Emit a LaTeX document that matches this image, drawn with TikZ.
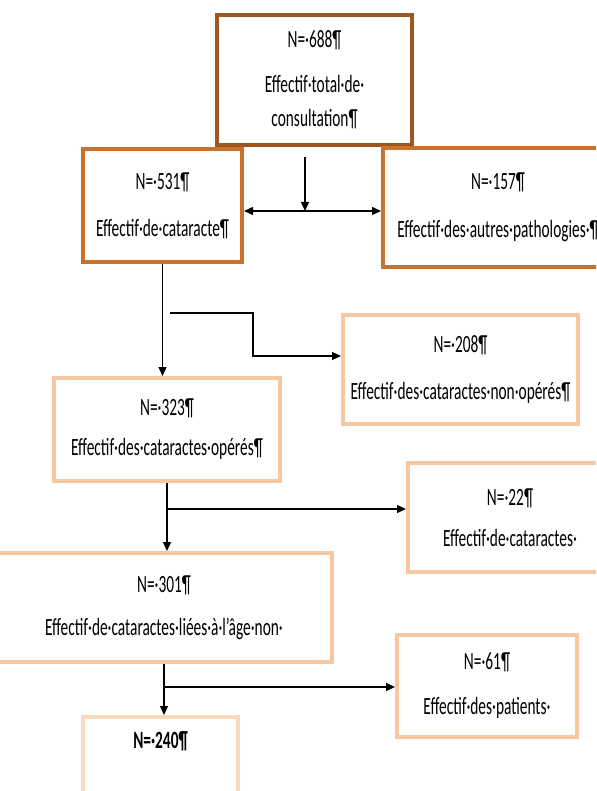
\documentclass[tikz,border=0pt]{standalone}
\usepackage{fontspec}
\setmainfont{Carlito}[FakeStretch=0.62]
\usetikzlibrary{arrows.meta}

\definecolor{brownline}{RGB}{158,86,30}
\definecolor{orangeline}{RGB}{200,114,46}
\definecolor{peachline}{RGB}{246,200,162}
\definecolor{paleline}{RGB}{250,216,188}

\begin{document}
\begin{tikzpicture}[x=1pt,y=-1pt,
  every node/.style={font=\fontsize{24.8}{34}\selectfont, align=center, inner sep=0pt},
  box/.style={draw=#1, line width=4pt},
  link/.style={line width=1.3pt},
  >={Triangle[length=9pt,width=8pt]}]
  \useasboundingbox (0,0) rectangle (596,791);
  \clip (0,0) rectangle (596,791);
  % boxes
  \node[box=brownline, minimum width=195pt, minimum height=130pt] (total) at (314.5,80)
    {N=·688¶\\[11pt]Effectif·total·de·\\consultation¶};
  \node[box=orangeline, minimum width=159pt, minimum height=113pt] (cataracte) at (162.5,205.5)
    {N=·531¶\\[13pt]Effectif·de·cataracte¶};
  \node[box=orangeline, minimum width=230pt, minimum height=119pt] (autres) at (498,207.5)
    {N=·157¶\\[14pt]Effectif·des·autres·pathologies·¶};
  \node[box=peachline, minimum width=235pt, minimum height=109pt] (nonoperes) at (460.5,369.5)
    {N=·208¶\\[13pt]Effectif·des·cataractes·non·opérés¶};
  \node[box=peachline, minimum width=226pt, minimum height=103pt] (operes) at (167,429.5)
    {N=·323¶\\[6pt]Effectif·des·cataractes·opérés¶};
  \node[box=peachline, minimum width=336pt, minimum height=109pt] (ages) at (164,607.5)
    {N=·301¶\\[9pt]Effectif·de·cataractes·liées·à·l’âge·non·};
  \node[box=peachline, minimum width=204pt, minimum height=109pt] (exclus) at (510,517.5)
    {N=·22¶\\[7pt]Effectif·de·cataractes·};
  \node[box=paleline, minimum width=155pt, minimum height=103pt] (final) at (160.5,768.5)
    {\bfseries N=·240¶\\[13pt]\strut};
  \node[box=peachline, minimum width=180pt, minimum height=102pt] (patients) at (487,686)
    {N=·61¶\\[11pt]Effectif·des·patients·};
  % connectors
  \coordinate (splitTop) at (305,157);
  \coordinate (split) at (305,211);
  \draw[link,->] (splitTop) -- (split);
  \draw[link,<->] (cataracte.east |- split) -- (autres.west |- split);
  \draw[link,->] (cataracte.south) -- (cataracte.south |- operes.north);
  \coordinate (bendStart) at (170,313);
  \coordinate (toNonop) at (253,356);
  \draw[link,->] (bendStart) -- (bendStart -| toNonop) -- (toNonop) -- (toNonop -| nonoperes.west);
  \draw[link,->] (operes.south) -- (operes.south |- ages.north);
  \coordinate (exitOperes) at (167,509);
  \draw[link,->] (exitOperes) -- (exitOperes -| exclus.west);
  \draw[link,->] (ages.south) -- (ages.south |- final.north);
  \coordinate (exitAges) at (165,687);
  \draw[link,->] (exitAges) -- (exitAges -| patients.west);
\end{tikzpicture}
\end{document}
